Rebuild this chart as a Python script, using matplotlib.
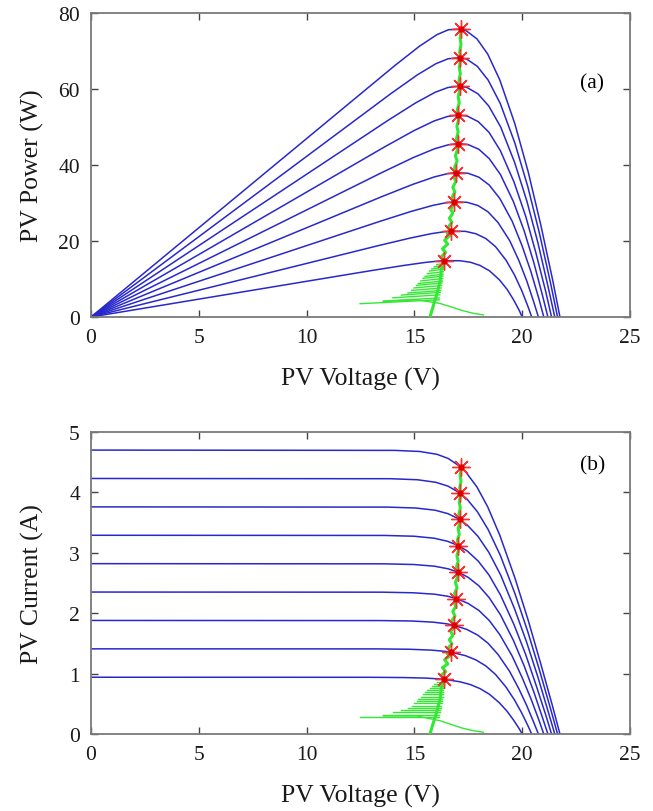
import matplotlib
matplotlib.use("Agg")
import matplotlib.pyplot as plt

# I-V curves, one list per irradiance step (lowest first)
v_curves = [
    [0, 12.95, 14.46, 15.50, 16.16, 16.39, 17.11, 17.60, 18.04, 18.48, 18.94, 19.30, 19.59, 19.85, 20.00],
    [0, 13.30, 14.77, 15.78, 16.43, 16.70, 17.37, 17.85, 18.31, 18.76, 19.25, 19.64, 19.97, 20.26, 20.44],
    [0, 13.39, 14.85, 15.86, 16.50, 16.84, 17.44, 17.94, 18.41, 18.88, 19.42, 19.84, 20.21, 20.54, 20.75],
    [0, 13.50, 14.93, 15.92, 16.55, 16.95, 17.49, 17.99, 18.47, 18.96, 19.53, 19.99, 20.40, 20.77, 21.00],
    [0, 13.58, 14.97, 15.93, 16.56, 17.01, 17.49, 17.99, 18.47, 18.99, 19.59, 20.09, 20.53, 20.93, 21.19],
    [0, 13.62, 14.98, 15.92, 16.53, 17.04, 17.46, 17.96, 18.46, 18.99, 19.62, 20.16, 20.63, 21.08, 21.36],
    [0, 13.78, 15.07, 15.97, 16.56, 17.10, 17.45, 17.95, 18.45, 19.00, 19.65, 20.22, 20.73, 21.20, 21.51],
    [0, 13.90, 15.14, 15.99, 16.56, 17.13, 17.43, 17.92, 18.42, 18.98, 19.66, 20.26, 20.80, 21.31, 21.64],
    [0, 14.09, 15.24, 16.05, 16.58, 17.16, 17.41, 17.90, 18.40, 18.96, 19.66, 20.28, 20.85, 21.40, 21.75],
]
i_curves = [
    [0.94, 0.939, 0.935, 0.926, 0.912, 0.904, 0.865, 0.818, 0.752, 0.658, 0.517, 0.376, 0.235, 0.094, 0],
    [1.41, 1.409, 1.403, 1.389, 1.368, 1.354, 1.297, 1.227, 1.128, 0.987, 0.776, 0.564, 0.353, 0.141, 0],
    [1.88, 1.878, 1.871, 1.852, 1.824, 1.799, 1.730, 1.636, 1.504, 1.316, 1.034, 0.752, 0.470, 0.188, 0],
    [2.35, 2.348, 2.338, 2.315, 2.280, 2.242, 2.162, 2.045, 1.880, 1.645, 1.293, 0.940, 0.588, 0.235, 0],
    [2.82, 2.817, 2.806, 2.778, 2.735, 2.682, 2.594, 2.453, 2.256, 1.974, 1.551, 1.128, 0.705, 0.282, 0],
    [3.29, 3.287, 3.274, 3.241, 3.191, 3.119, 3.027, 2.862, 2.632, 2.303, 1.810, 1.316, 0.823, 0.329, 0],
    [3.76, 3.756, 3.741, 3.704, 3.647, 3.553, 3.459, 3.271, 3.008, 2.632, 2.068, 1.504, 0.940, 0.376, 0],
    [4.23, 4.226, 4.209, 4.167, 4.103, 3.985, 3.892, 3.680, 3.384, 2.961, 2.327, 1.692, 1.058, 0.423, 0],
    [4.70, 4.695, 4.677, 4.630, 4.559, 4.416, 4.324, 4.089, 3.760, 3.290, 2.585, 1.880, 1.175, 0.470, 0],
]

# maximum power points (red asterisks)
mpp_v = [16.39, 16.70, 16.84, 16.95, 17.01, 17.04, 17.10, 17.13, 17.16]
mpp_i = [0.904, 1.354, 1.799, 2.242, 2.682, 3.119, 3.553, 3.985, 4.416]

# tracker trajectory (green): start-up hatching, spine through the MPPs, and tail
hatch_i = [0.28, 0.31, 0.36, 0.40, 0.43, 0.47, 0.51, 0.55, 0.58, 0.62, 0.66, 0.69, 0.73, 0.77, 0.80, 0.83, 0.86]
hatch_v_left = [12.48, 13.56, 14.00, 14.40, 14.70, 14.87, 14.98, 15.10, 15.18, 15.30, 15.40, 15.49, 15.60, 15.70, 15.80, 15.92, 16.03]
hatch_v_right = [16.15, 16.15, 16.18, 16.20, 16.22, 16.24, 16.26, 16.28, 16.30, 16.31, 16.32, 16.33, 16.34, 16.35, 16.36, 16.38, 16.40]

spine_v = [15.72, 15.88, 16.03, 16.19, 16.26, 16.39, 16.22, 16.45, 16.30, 16.55, 16.40, 16.64, 16.52, 16.70,
           16.55, 16.74, 16.62, 16.78, 16.68, 16.82, 16.84, 16.72, 16.88, 16.78, 16.92, 16.84, 16.95,
           16.86, 16.98, 16.90, 17.00, 17.01, 16.95, 17.03, 16.97, 17.04, 17.04, 16.99, 17.08, 17.03, 17.10, 17.10,
           17.06, 17.13, 17.08, 17.13, 17.13, 17.10, 17.16, 17.12, 17.16, 17.16]
spine_i = [0.0, 0.19, 0.36, 0.58, 0.80, 0.904, 0.97, 1.03, 1.10, 1.16, 1.23, 1.29, 1.33, 1.354,
           1.42, 1.49, 1.56, 1.63, 1.70, 1.76, 1.799, 1.87, 1.95, 2.03, 2.11, 2.18, 2.242,
           2.33, 2.42, 2.51, 2.60, 2.682, 2.77, 2.86, 2.95, 3.04, 3.119, 3.21, 3.30, 3.40, 3.50, 3.553,
           3.64, 3.74, 3.84, 3.94, 3.985, 4.08, 4.18, 4.28, 4.38, 4.416]

tail_v = [13.56, 15.10, 16.19, 16.65, 17.20, 17.73, 18.20]
tail_i = [0.30, 0.30, 0.22, 0.165, 0.10, 0.055, 0.03]

plt.rcParams['font.family'] = ['Liberation Serif', 'DejaVu Serif']
BLUE = '#2828cc'
GREEN = '#33e833'
GRAY = '#7a7a7a'

fig = plt.figure(figsize=(6.53, 8.12), dpi=100)
axP = fig.add_axes([0.1394, 0.6084, 0.8254, 0.3744])
axI = fig.add_axes([0.1394, 0.0948, 0.8254, 0.3720])


def power(vs, cs):
    return [v * c for v, c in zip(vs, cs)]


for ax, usePower in ((axP, True), (axI, False)):
    yf = power if usePower else (lambda vs, cs: cs)
    for vs, cs in zip(v_curves, i_curves):
        ax.plot(vs, yf(vs, cs), color=BLUE, lw=1.1, zorder=2)
    for lv, l, r in zip(hatch_i, hatch_v_left, hatch_v_right):
        ax.plot([l, r], yf([l, r], [lv, lv]), color=GREEN, lw=1.0, zorder=3)
    ax.plot(tail_v, yf(tail_v, tail_i), color=GREEN, lw=1.0, zorder=3)
    ax.plot(spine_v, yf(spine_v, spine_i), color=GREEN, lw=2.2, zorder=3)
    ax.plot(mpp_v, yf(mpp_v, mpp_i), linestyle='none', marker=(8, 2, 0), ms=13, mew=1.0,
            color='#ff3030', zorder=4)
    ax.plot(mpp_v, yf(mpp_v, mpp_i), linestyle='none', marker='o', ms=3.5, color='#dd0000', zorder=5)

    ax.set_xlim(0, 25)
    ax.set_xticks(range(0, 26, 5))
    for sp in ax.spines.values():
        sp.set_color(GRAY)
        sp.set_linewidth(1.3)
    ax.tick_params(direction='in', top=True, right=True, length=5, width=1.0, color='#444444',
                   labelsize=15.5, pad=8, labelcolor='#1a1a1a')
    ax.set_xlabel('PV Voltage (V)', fontsize=18.5, color='#1a1a1a')
    ax.xaxis.set_label_coords(0.5, -0.165)

axP.set_ylim(0, 80)
axP.set_yticks(range(0, 81, 20))
axP.set_ylabel('PV Power (W)', fontsize=18.5, color='#1a1a1a')
axP.yaxis.set_label_coords(-0.087, 0.5)
axP.text(0.93, 0.77, '(a)', transform=axP.transAxes, ha='center', va='center', fontsize=15.5)

axI.set_ylim(0, 5)
axI.set_yticks(range(0, 6))
axI.set_ylabel('PV Current (A)', fontsize=18.5, color='#1a1a1a')
axI.yaxis.set_label_coords(-0.087, 0.5)
axI.text(0.93, 0.89, '(b)', transform=axI.transAxes, ha='center', va='center', fontsize=15.5)

fig.savefig('out.png', dpi=100)
